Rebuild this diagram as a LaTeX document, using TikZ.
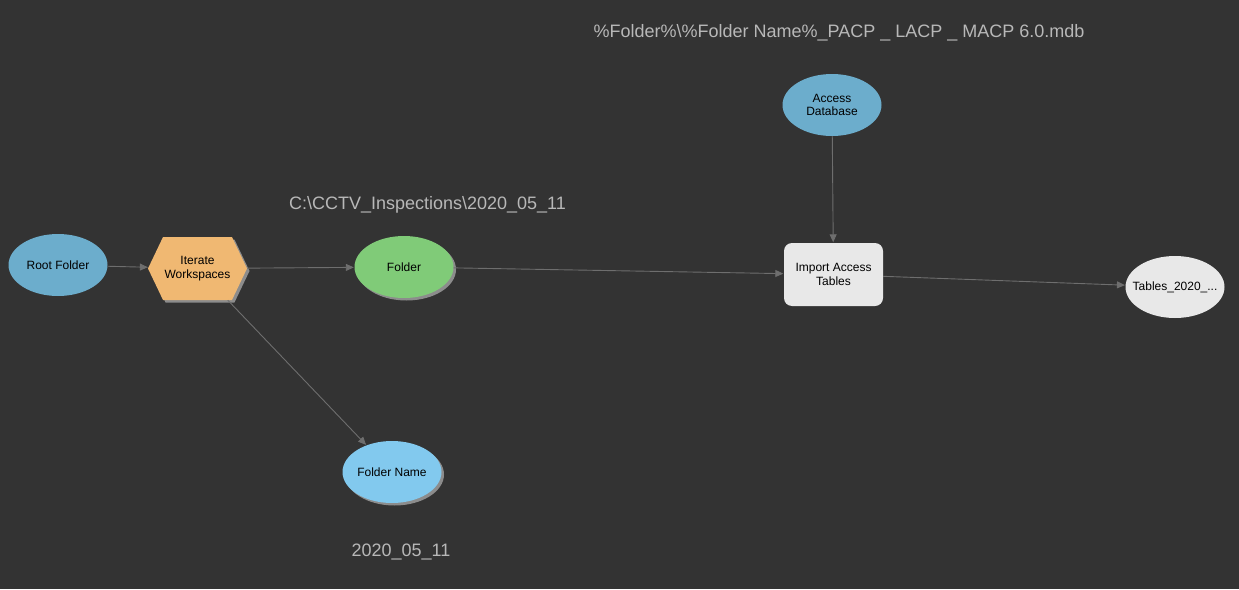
\documentclass[tikz,border=0pt]{standalone}
\usepackage{fontspec}
\setmainfont{Liberation Sans}
\usetikzlibrary{shapes.geometric,shapes.symbols,arrows.meta,shadows}
\definecolor{bg}{HTML}{333333}
\definecolor{dsblue}{HTML}{6CADCC}
\definecolor{ltblue}{HTML}{82C9EE}
\definecolor{tgreen}{HTML}{80CB78}
\definecolor{torange}{HTML}{F0B872}
\definecolor{tgrey}{HTML}{E8E8E8}
\definecolor{edgec}{HTML}{6E6E6E}
\definecolor{shadc}{HTML}{8C8C8C}
\definecolor{labc}{HTML}{B8B8B8}
\tikzset{
  base/.style={font=\fontsize{12}{13.5}\selectfont, text=black, align=center, inner sep=0pt},
  oval/.style={base, ellipse, minimum width=99pt, minimum height=62pt},
  shad/.style={drop shadow={shadow xshift=2.5pt, shadow yshift=-2.5pt, fill=shadc, opacity=1}},
  hexa/.style={base, signal, signal to=west and east, signal pointer angle=129, minimum width=99pt, minimum height=63pt},
  tool/.style={base, rectangle, rounded corners=8pt, minimum width=99pt, minimum height=63pt},
  conn/.style={draw=edgec, line width=0.9pt, -{Triangle[length=8pt,width=7pt]}, shorten >=0.5pt},
  lab/.style={text=labc, font=\fontsize{18}{20}\selectfont, inner sep=0pt}
}
\begin{document}
\begin{tikzpicture}[x=1pt,y=-1pt]
\useasboundingbox[fill=bg] (0,0) rectangle (1239,589);
\node[oval, fill=dsblue] (root) at (58,265) {Root Folder};
\node[hexa, fill=torange, shad] (iter) at (197.5,268.5) {Iterate\\Workspaces};
\node[oval, fill=tgreen, shad] (folder) at (404,267) {Folder};
\node[oval, fill=ltblue, shad] (fname) at (392,472) {Folder Name};
\node[oval, fill=dsblue] (adb) at (832,105) {Access\\Database};
\node[tool, fill=tgrey] (imp) at (833.5,274.5) {Import Access\\Tables};
\node[oval, fill=tgrey, inner xsep=-12pt] (tables) at (1175,287) {Tables\_2020\_...};
\node[lab] (l1) at (839,32.5) {\%Folder\%\textbackslash\%Folder Name\%\_PACP \_ LACP \_ MACP 6.0.mdb};
\node[lab] (l2) at (427.5,204.5) {C:\textbackslash CCTV\_Inspections\textbackslash 2020\_05\_11};
\node[lab] (l3) at (401,551.5) {2020\_05\_11};
\draw[conn] (root) -- (iter);
\draw[conn] (iter) -- (folder);
\draw[conn] (iter) -- (fname);
\draw[conn] (folder) -- (imp);
\draw[conn] (adb) -- (imp);
\draw[conn] (imp) -- (tables);
\end{tikzpicture}
\end{document}
